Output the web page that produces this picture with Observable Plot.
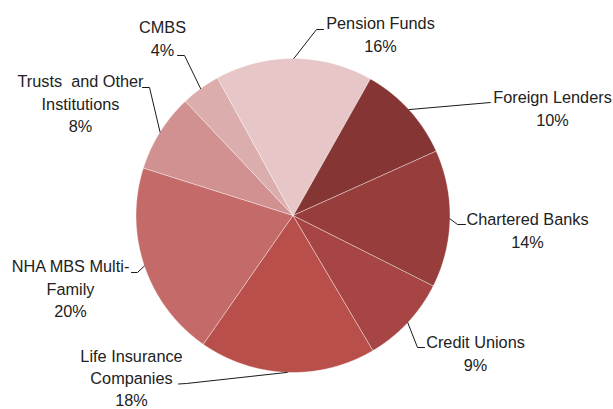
<!DOCTYPE html>
<html><head><meta charset="utf-8">
<script src="https://cdn.jsdelivr.net/npm/d3@7"></script>
<script src="https://cdn.jsdelivr.net/npm/@observablehq/plot@0.6"></script>
<style>body{margin:0;background:#fff}</style>
</head><body><div id="chart"></div>
<script>
// ---- data ----
const categories = ["Foreign Lenders","Chartered Banks","Credit Unions","Life Insurance Companies","NHA MBS Multi-Family","Trusts and Other Institutions","CMBS","Pension Funds"];
const shares = [10,14,9,18,20,8,4,16];
const labelLines = [["Foreign Lenders"],["Chartered Banks"],["Credit Unions"],["Life Insurance","Companies"],["NHA MBS Multi-","Family"],["Trusts  and Other","Institutions"],["CMBS"],["Pension Funds"]];
const colors = ["#853533","#973d3b","#a64543","#b84f4b","#c46b6a","#d09190","#dcadad","#e6c6c7"];

// ---- layout (pixels) ----
const W = 613, H = 409, CX = 292.5, CY = 215, R = 157;
const START_DEG = 29.4;
const FONT = 16.3, LH = 1.35;
// label centre x / first baseline y, and leader elbow + end points
const labelLayout = [
  {x: 552, y: 103, elbow: [490, 102], end: [490, 102]},
  {x: 527, y: 225, elbow: [457, 224], end: [465, 224]},
  {x: 475, y: 348, elbow: [417, 347], end: [424, 347]},
  {x: 131, y: 361.5, elbow: [186, 383], end: [178, 383.5]},
  {x: 70,  y: 272, elbow: [137, 272], end: [131, 272]},
  {x: 80,  y: 87,  elbow: [149, 87],  end: [142, 87]},
  {x: 162, y: 33,  elbow: [184, 55],  end: [177, 55]},
  {x: 380, y: 29,  elbow: [316, 29],  end: [323, 29]}
];
const ux = px => (px - CX) / R;
const uy = py => (CY - py) / R;
// Plot's "top" line anchor puts the first baseline 0.71*lineHeight em below y
const topShift = 0.71 * LH * FONT;

const a0 = START_DEG * Math.PI / 180;
const arcs = d3.pie().sort(null).startAngle(a0).endAngle(a0 + 2 * Math.PI)(shares);

const slicePts = [];
const leaderPts = [];
const labelData = [];
arcs.forEach((a, i) => {
  const cat = categories[i];
  slicePts.push({cat, x: 0, y: 0});
  const n = Math.max(2, Math.ceil((a.endAngle - a.startAngle) / 0.005));
  for (let k = 0; k <= n; k++) {
    const t = a.startAngle + (a.endAngle - a.startAngle) * k / n;
    slicePts.push({cat, x: Math.sin(t), y: Math.cos(t)});
  }
  const mid = (a.startAngle + a.endAngle) / 2;
  const L = labelLayout[i];
  leaderPts.push({cat, x: Math.sin(mid), y: Math.cos(mid)});
  leaderPts.push({cat, x: ux(L.elbow[0]), y: uy(L.elbow[1])});
  leaderPts.push({cat, x: ux(L.end[0]), y: uy(L.end[1])});
  labelData.push({x: ux(L.x), y: uy(L.y - topShift), text: labelLines[i].join("\n") + "\n" + shares[i] + "%"});
});

const chart = Plot.plot({
  width: W, height: H,
  margin: 0,
  style: {fontFamily: "'Liberation Sans', Arial, sans-serif", background: "#fff"},
  x: {type: "linear", domain: [ux(0), ux(W)], range: [0, W], axis: null},
  y: {type: "linear", domain: [uy(H), uy(0)], range: [H, 0], axis: null},
  color: {type: "ordinal", domain: categories, range: colors},
  marks: [
    Plot.line(slicePts, {x: "x", y: "y", z: "cat", fill: "cat", stroke: "#ffffff", strokeWidth: 0.8, strokeOpacity: 0.55, curve: "linear-closed"}),
    Plot.line(leaderPts, {x: "x", y: "y", z: "cat", stroke: "#1a1a1a", strokeWidth: 1}),
    Plot.text(labelData, {x: "x", y: "y", text: "text", lineAnchor: "top", textAnchor: "middle", lineHeight: LH, fontSize: FONT, fill: "#222"})
  ]
});
document.getElementById("chart").appendChild(chart);
</script>
</body></html>
